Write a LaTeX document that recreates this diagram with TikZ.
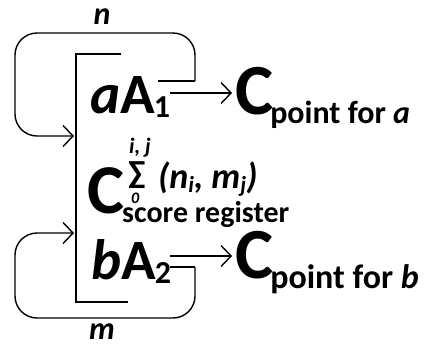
\documentclass[tikz,border=0pt]{standalone}
\usepackage{fontspec}
\setmainfont{Carlito}
\usetikzlibrary{arrows.meta}
\newcommand\fsz[1]{\fontsize{#1}{#1}\selectfont}
\begin{document}
\begin{tikzpicture}[x=1pt,y=-1pt,
  txt/.style={inner sep=0pt,anchor=base west,font=\bfseries},
  ln/.style={line width=1.4pt},
  arr/.style={ln,-{Straight Barb[length=10pt,width=21pt,line width=1.4pt]}},
  loopln/.style={ln,rounded corners=22pt,-{Straight Barb[length=10pt,width=21pt,line width=1.4pt]}}]
\useasboundingbox (0,0) rectangle (425,349);
% texts
\node[txt] (a1) at (90,113) {{\fsz{57}\textit{a}A}\kern-1pt\raisebox{-4pt}{\fsz{32}1}};
\node[txt] (ca) at (235,114) {{\fsz{72}C}\kern-3pt\raisebox{-9pt}{\fsz{32}point for \textit{a}}};
\node[txt] (cs) at (87,213) {\fsz{70}C};
\node[txt] (sr) at (122,222) {\fsz{30}score register};
\node[inner sep=0pt,anchor=base,text height=14pt,text depth=0pt,font=\bfseries\itshape\fsz{22}] (ij) at (140,153) {i, j};
\node[inner sep=0pt,anchor=base,text height=12pt,text depth=0pt,font=\bfseries\fsz{32}] (sig) at (137,183) {∑};
\node[txt,text height=11pt,text depth=0pt,font=\bfseries\itshape\fsz{16}] (zero) at (131,203) {0};
\node[txt,font=\bfseries\itshape\fsz{36}] (nm) at (158,188) {(n\raisebox{-4pt}{\fsz{23}i}, m\raisebox{-4pt}{\fsz{23}j})};
\node[txt] (b2) at (91,279) {{\fsz{57}\textit{b}A}\kern-1pt\raisebox{-4pt}{\fsz{32}2}};
\node[txt] (cb) at (235,278) {{\fsz{72}C}\kern-3pt\raisebox{-10pt}{\fsz{34}point for \textit{b}}};
\node[inner sep=0pt,font=\bfseries\itshape\fsz{32}] (n) at (102,17) {n};
\node[inner sep=0pt,font=\bfseries\itshape\fsz{32}] (m) at (102,332) {m};
% coordinates
\coordinate (a1top) at (158,81);
\coordinate (a1mid) at (170,93);
\coordinate (catip) at (232,93);
\coordinate (b2bot) at (170,267);
\coordinate (b2mid) at (170,256);
\coordinate (cbtip) at (232,256);
\coordinate (trc) at (195,81);
\coordinate (brc) at (195,267);
\coordinate (in1) at (74,136);
\coordinate (in2) at (74,233);
% bracket
\draw[ln] (121,54) -- (76,54) -- (76,302) -- (128,302);
% arrows
\draw[arr] (a1mid) -- (catip);
\draw[arr] (b2mid) -- (cbtip);
% loops
\draw[ln] (a1top) -- (trc);
\draw[loopln] (trc) -- (195,33) -- (15,33) -- (15,136) -- (in1);
\draw[ln] (b2bot) -- (brc);
\draw[loopln] (brc) -- (195,318) -- (15,318) -- (15,233) -- (in2);
\end{tikzpicture}
\end{document}
